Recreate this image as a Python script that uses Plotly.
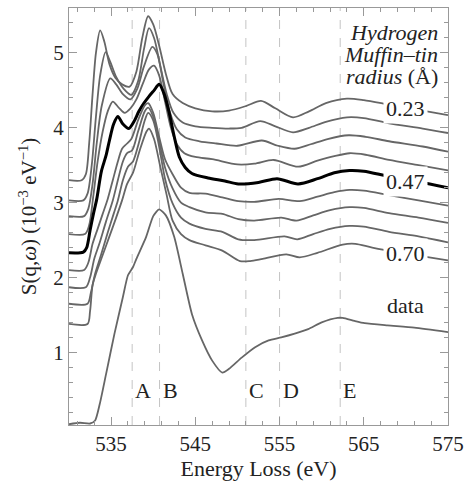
import plotly.graph_objects as go

# ---------------- data ----------------
radius_labels = ["0.23", "0.47", "0.70"]

c1_x = [530, 531.5, 532.0, 532.4, 532.8, 533.2, 533.7, 534.2, 534.8, 535.5, 536.3, 537.2, 538.0, 538.7, 539.4, 540.0, 540.7, 541.5, 542.3, 543.5, 545.0, 547.0, 549.0, 551.0, 552.8, 554.5, 556.6, 558.5, 560.5, 563.0, 565.0, 568.0, 572.0, 575.0]
c1_y = [3.30, 3.30, 3.38, 3.80, 4.45, 5.00, 5.30, 5.15, 4.85, 4.67, 4.58, 4.55, 4.75, 5.20, 5.49, 5.38, 5.10, 4.72, 4.45, 4.33, 4.26, 4.22, 4.23, 4.29, 4.36, 4.26, 4.14, 4.22, 4.33, 4.39, 4.37, 4.31, 4.23, 4.17]

c2_x = [530, 531.7, 532.2, 532.7, 533.2, 533.7, 534.35, 534.9, 535.6, 536.5, 537.4, 538.2, 538.9, 539.5, 540.1, 540.8, 541.6, 542.4, 543.5, 545.0, 547.0, 549.0, 550.5, 552.7, 554.5, 556.6, 558.5, 560.5, 563.0, 565.0, 568.0, 572.0, 575.0]
c2_y = [3.03, 3.03, 3.12, 3.50, 4.15, 4.70, 5.01, 4.88, 4.68, 4.52, 4.44, 4.62, 5.05, 5.33, 5.20, 4.85, 4.45, 4.20, 4.07, 4.02, 4.00, 3.99, 4.00, 4.09, 4.02, 3.94, 4.00, 4.08, 4.14, 4.13, 4.06, 3.99, 3.93]

c3_x = [530, 531.8, 532.3, 532.8, 533.3, 533.9, 534.9, 535.6, 536.4, 537.3, 538.1, 538.9, 539.9, 540.5, 541.2, 542.0, 542.8, 543.8, 545.5, 547.5, 550.0, 552.9, 554.8, 556.8, 558.7, 560.7, 563.2, 565.2, 568.0, 572.0, 575.0]
c3_y = [2.82, 2.82, 2.92, 3.25, 3.80, 4.30, 4.66, 4.58, 4.45, 4.38, 4.52, 4.82, 5.08, 4.98, 4.60, 4.20, 3.98, 3.87, 3.82, 3.79, 3.76, 3.83, 3.76, 3.72, 3.78, 3.85, 3.90, 3.88, 3.82, 3.75, 3.68]

c4_x = [530, 531.9, 532.4, 532.9, 533.4, 534.0, 534.6, 535.2, 535.9, 536.6, 537.3, 538.0, 538.8, 539.5, 540.1, 540.7, 541.4, 542.1, 542.8, 543.7, 545.0, 547.0, 550.0, 552.0, 554.3, 557.2, 559.5, 561.5, 563.3, 565.2, 568.0, 571.5, 575.0]
c4_y = [2.58, 2.58, 2.70, 3.10, 3.55, 3.95, 4.22, 4.35, 4.27, 4.20, 4.26, 4.38, 4.60, 4.78, 4.83, 4.70, 4.35, 4.00, 3.78, 3.66, 3.61, 3.58, 3.51, 3.52, 3.57, 3.48, 3.56, 3.62, 3.66, 3.64, 3.57, 3.50, 3.43]

c5_x = [530, 531.7, 532.1, 532.5, 532.9, 533.3, 533.85, 534.4, 534.8, 535.3, 535.8, 536.4, 537.1, 537.7, 538.3, 538.9, 539.5, 540.1, 540.7, 541.3, 541.9, 542.5, 543.1, 543.8, 544.6, 546.5, 548.5, 550.1, 552.5, 554.7, 557.2, 559.5, 561.5, 563.3, 565.0, 568.0, 571.5, 575.0]
c5_y = [2.33, 2.34, 2.40, 2.63, 2.85, 3.05, 3.42, 3.63, 3.83, 4.05, 4.15, 4.05, 3.99, 4.08, 4.22, 4.33, 4.42, 4.50, 4.58, 4.45, 4.20, 3.88, 3.61, 3.47, 3.39, 3.33, 3.29, 3.25, 3.27, 3.32, 3.25, 3.32, 3.40, 3.43, 3.42, 3.35, 3.28, 3.20]

c6_x = [530, 531.8, 532.3, 532.8, 533.4, 534.0, 534.6, 535.2, 535.8, 536.3, 536.8, 537.4, 538.2, 539.0, 539.4, 540.0, 540.7, 541.4, 542.3, 543.3, 544.3, 546.2, 548.2, 550.1, 552.0, 554.9, 557.4, 559.5, 561.5, 563.3, 565.0, 568.0, 571.5, 575.0]
c6_y = [2.10, 2.10, 2.20, 2.45, 2.65, 2.85, 3.05, 3.30, 3.55, 3.72, 3.78, 3.85, 4.10, 4.30, 4.33, 4.20, 3.88, 3.58, 3.38, 3.20, 3.13, 3.12, 3.07, 3.02, 3.01, 3.05, 3.02, 3.08, 3.14, 3.17, 3.16, 3.10, 3.03, 2.96]

c7_x = [530, 532.0, 532.5, 533.0, 533.6, 534.4, 535.2, 535.8, 536.4, 536.9, 537.5, 538.2, 539.0, 539.4, 540.0, 540.7, 541.4, 542.3, 543.3, 544.3, 546.2, 548.2, 550.1, 552.0, 555.2, 557.0, 559.0, 561.0, 563.3, 565.0, 568.0, 571.5, 575.0]
c7_y = [1.87, 1.87, 2.00, 2.25, 2.45, 2.75, 3.03, 3.30, 3.55, 3.66, 3.70, 3.95, 4.22, 4.27, 4.15, 3.82, 3.47, 3.19, 3.00, 2.94, 2.87, 2.85, 2.78, 2.76, 2.80, 2.76, 2.83, 2.90, 2.94, 2.93, 2.86, 2.80, 2.73]

c8_x = [530, 532.2, 532.6, 533.1, 533.8, 534.6, 535.3, 535.8, 536.4, 537.0, 537.6, 538.3, 539.0, 539.4, 540.0, 540.7, 541.4, 542.3, 543.3, 544.3, 546.2, 548.2, 550.1, 552.0, 555.6, 557.1, 559.0, 561.0, 563.3, 565.0, 568.0, 571.5, 575.0]
c8_y = [1.65, 1.65, 1.80, 2.05, 2.30, 2.60, 2.85, 3.03, 3.30, 3.48, 3.55, 3.80, 4.10, 4.20, 4.10, 3.75, 3.32, 2.99, 2.80, 2.72, 2.65, 2.61, 2.51, 2.50, 2.55, 2.51, 2.58, 2.65, 2.69, 2.68, 2.61, 2.55, 2.47]

c9_x = [530, 532.2, 532.5, 532.8, 533.2, 534.0, 534.8, 535.6, 536.3, 536.9, 537.6, 538.4, 539.2, 539.5, 540.1, 540.8, 541.6, 542.3, 543.3, 544.3, 546.2, 548.2, 550.3, 551.5, 553.0, 555.8, 557.4, 559.5, 562.5, 564.0, 566.0, 570.0, 575.0]
c9_y = [1.38, 1.38, 1.55, 1.90, 2.05, 2.30, 2.55, 2.80, 3.03, 3.25, 3.40, 3.70, 3.95, 3.99, 3.85, 3.50, 3.10, 2.76, 2.58, 2.50, 2.43, 2.36, 2.22, 2.22, 2.25, 2.31, 2.27, 2.33, 2.44, 2.45, 2.40, 2.32, 2.23]

data_x = [530, 531.3, 532.5, 533.1, 533.65, 534.4, 535.4, 536.4, 537.0, 537.6, 538.0, 539.15, 540.0, 540.7, 541.5, 542.5, 543.5, 544.6, 545.8, 547.0, 548.2, 549.0, 550.5, 552.1, 553.7, 555.2, 556.8, 558.4, 560.0, 561.9, 562.5, 563.9, 565.1, 567.8, 571.0, 575.0]
data_y = [0.04, 0.06, 0.05, 0.09, 0.31, 0.71, 1.25, 1.74, 2.03, 2.14, 2.25, 2.54, 2.82, 2.91, 2.83, 2.54, 2.05, 1.51, 1.16, 0.89, 0.73, 0.78, 0.93, 1.07, 1.16, 1.20, 1.25, 1.31, 1.40, 1.46, 1.46, 1.42, 1.39, 1.36, 1.33, 1.27]

feature_names = ["A", "B", "C", "D", "E"]
feature_x = [537.5, 540.75, 551.0, 555.0, 562.2]

legend_title_lines = ["<i>Hydrogen</i>", "<i>Muffin–tin</i>", "<i>radius</i> (Å)"]

# ---------------- figure ----------------
FONT = "Liberation Serif, Times New Roman, serif"
GRAY = "#666666"

fig = go.Figure()

model_x = [c1_x, c2_x, c3_x, c4_x, c5_x, c6_x, c7_x, c8_x, c9_x]
model_y = [c1_y, c2_y, c3_y, c4_y, c5_y, c6_y, c7_y, c8_y, c9_y]

for i, (xs, ys) in enumerate(zip(model_x, model_y)):
    bold = (i == 4)
    fig.add_trace(go.Scatter(
        x=xs, y=ys, mode="lines",
        line=dict(color="black" if bold else GRAY, width=3 if bold else 1.8,
                  shape="spline", smoothing=0.8),
        showlegend=False, hoverinfo="skip"))

fig.add_trace(go.Scatter(
    x=data_x, y=data_y, mode="lines",
    line=dict(color=GRAY, width=1.8, shape="spline", smoothing=0.6),
    showlegend=False, hoverinfo="skip"))

# dashed feature lines
for fx in feature_x:
    fig.add_shape(type="line", x0=fx, x1=fx, y0=0, y1=1, xref="x", yref="paper",
                  line=dict(color="#c4c4c4", width=1, dash="dash"), layer="below")

# feature letters
for name, fx in zip(feature_names, feature_x):
    fig.add_annotation(x=fx, y=0.49, xref="x", yref="y", text=name, showarrow=False,
                       xanchor="left", xshift=1, font=dict(family=FONT, size=22, color="#222"))

# radius labels (white box hides the curve under the label)
label_y = [4.26, 3.28, 2.32]
for t, ly in zip(radius_labels, label_y):
    fig.add_annotation(x=569.9, y=ly, xref="x", yref="y", text=t, showarrow=False,
                       bgcolor="white", borderpad=2,
                       font=dict(family=FONT, size=22, color="#222"))
fig.add_annotation(x=569.9, y=1.63, xref="x", yref="y", text="data", showarrow=False,
                   font=dict(family=FONT, size=22, color="#222"))

# legend-title text block
for t, yy in zip(legend_title_lines, [5.27, 4.98, 4.69]):
    fig.add_annotation(x=574.1, y=yy, xref="x", yref="y", text=t, showarrow=False,
                       xanchor="right", yanchor="middle",
                       font=dict(family=FONT, size=22, color="#222"))

axis_common = dict(showline=True, linecolor="#999999", linewidth=1, mirror="allticks",
                   ticks="inside", tickcolor="#999999", ticklen=8, tickwidth=1,
                   showgrid=False, zeroline=False,
                   tickfont=dict(family=FONT, size=21, color="#222"))

fig.update_xaxes(range=[530, 575], tickvals=[535, 545, 555, 565, 575],
                 minor=dict(ticks="inside", tick0=535, dtick=2, ticklen=4, tickcolor="#999999"),
                 title=dict(text="Energy Loss (eV)", font=dict(family=FONT, size=22, color="#222"), standoff=4),
                 **axis_common)
fig.update_yaxes(range=[0.03, 5.6], tickvals=[1, 2, 3, 4, 5],
                 minor=dict(ticks="inside", tick0=0, dtick=0.2, ticklen=4, tickcolor="#999999"),
                 title=dict(text="S(q,<i>ω</i>) (10<sup>−3</sup> eV<sup>−1</sup>)",
                            font=dict(family=FONT, size=21, color="#222"), standoff=10),
                 **axis_common)

fig.update_layout(width=471, height=487, margin=dict(l=69, r=20, t=7, b=62),
                  paper_bgcolor="white", plot_bgcolor="white")

fig.write_html("out.html", config={"displayModeBar": False},
               post_script="document.body.style.margin='0';")
